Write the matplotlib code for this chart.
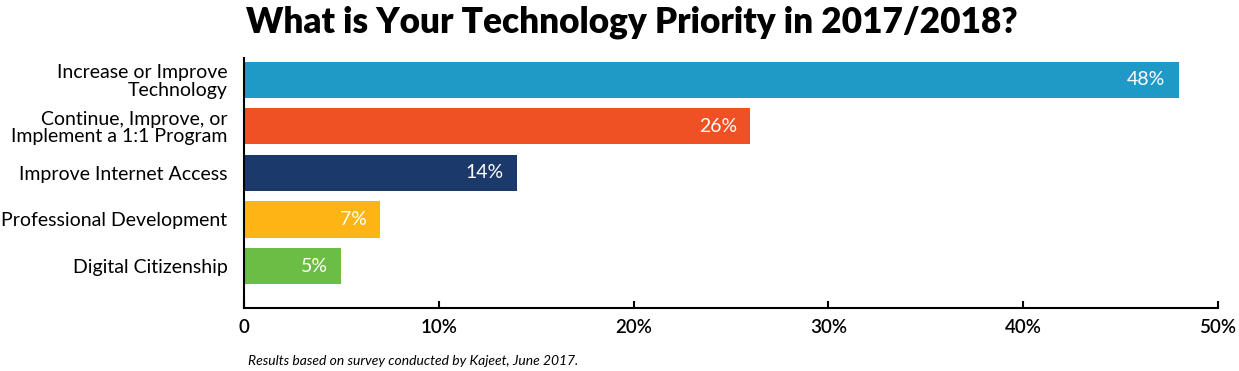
import matplotlib.pyplot as plt
import numpy as np

categories = ["Increase or Improve\nTechnology",
              "Continue, Improve, or\nImplement a 1:1 Program",
              "Improve Internet Access",
              "Professional Development",
              "Digital Citizenship"]
values = [48, 26, 14, 7, 5]
colors = ["#1f9ac6", "#ef5024", "#1b3a6b", "#fdb515", "#6cbd45"]
tick_vals = [0, 10, 20, 30, 40, 50]
tick_labels = ["0", "10%", "20%", "30%", "40%", "50%"]

plt.rcParams["font.family"] = ["Lato", "DejaVu Sans"]

fig = plt.figure(figsize=(12.39, 3.71), dpi=100)
ax = fig.add_axes([0.197, 0.170, 0.786, 0.674])

y = np.arange(len(values))
ax.barh(y, values, height=0.78, color=colors)
for i, v in enumerate(values):
    ax.text(v - 0.7, i, "%d%%" % v, color="white", fontsize=14,
            ha="right", va="center")

ax.set_xlim(0, 50)
ax.set_ylim(4.9, -0.47)
ax.set_yticks(y)
ax.set_yticklabels(categories, fontsize=14, linespacing=1.02)
ax.tick_params(axis="y", length=0, pad=12)
ax.set_xticks(tick_vals)
ax.set_xticklabels(tick_labels, fontsize=13.5)
ax.tick_params(axis="x", direction="in", length=5, width=1.5, pad=8)
for lbl in ax.get_xticklabels():
    lbl.set_fontweight("semibold")

ax.spines["top"].set_visible(False)
ax.spines["right"].set_visible(False)
ax.spines["left"].set_linewidth(1.5)
ax.spines["bottom"].set_linewidth(1.5)

fig.text(0.51, 0.94, "What is Your Technology Priority in 2017/2018?",
         ha="center", va="center", fontsize=25.3, fontweight="heavy")
fig.text(0.2, 0.028, "Results based on survey conducted by Kajeet, June 2017.",
         fontsize=10, style="italic", va="center")

fig.savefig("out.png", dpi=100)
